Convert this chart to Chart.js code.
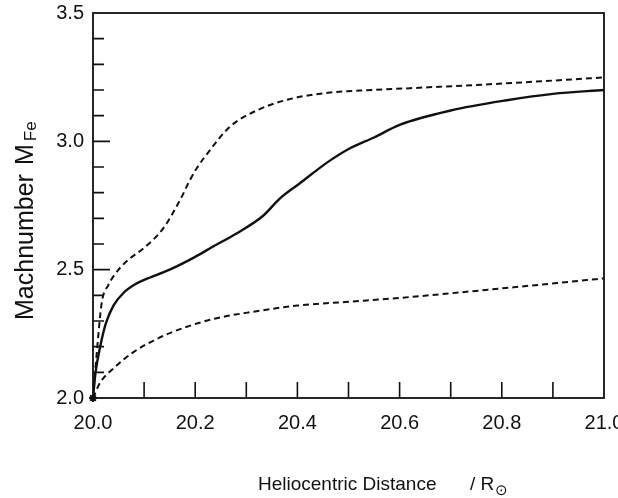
<!DOCTYPE html>
<html>
<head>
<meta charset="utf-8">
<script src="https://cdn.jsdelivr.net/npm/chart.js@4.4.1/dist/chart.umd.min.js"></script>
<style>
  html, body { margin: 0; padding: 0; background: #fff; }
</style>
</head>
<body>
<canvas id="chart" width="618" height="498"></canvas>
<script>
// axis ticks (labelled ones only)
const xTickLabels = [20.0, 20.2, 20.4, 20.6, 20.8, 21.0]
const yTickLabels = [2.0, 2.5, 3.0, 3.5]

// solid curve
const solidX = [20.0, 20.005, 20.014, 20.025, 20.04, 20.06, 20.08, 20.1, 20.15, 20.2, 20.235, 20.28, 20.333, 20.366, 20.405, 20.46, 20.503, 20.55, 20.6, 20.7, 20.81, 20.9, 21.0]
const solidY = [2.0, 2.1, 2.2, 2.29, 2.36, 2.41, 2.44, 2.46, 2.5, 2.55, 2.59, 2.64, 2.71, 2.778, 2.837, 2.92, 2.973, 3.015, 3.064, 3.12, 3.16, 3.185, 3.2]

// upper dashed curve
const upperX = [20.0, 20.008, 20.017, 20.03, 20.05, 20.07, 20.1, 20.137, 20.17, 20.19, 20.203, 20.229, 20.268, 20.32, 20.386, 20.464, 20.548, 20.62, 20.8, 21.0]
const upperY = [2.0, 2.19, 2.37, 2.44, 2.5, 2.54, 2.585, 2.66, 2.77, 2.85, 2.895, 2.966, 3.057, 3.12, 3.165, 3.19, 3.2, 3.207, 3.225, 3.249]

// lower dashed curve
const lowerX = [20.0, 20.014, 20.04, 20.08, 20.13, 20.18, 20.24, 20.31, 20.4, 20.5, 20.6, 20.8, 21.0]
const lowerY = [2.0, 2.06, 2.115, 2.18, 2.235, 2.275, 2.31, 2.335, 2.36, 2.375, 2.39, 2.427, 2.466]

const toPoints = (xs, ys) => xs.map((x, i) => ({ x, y: ys[i] }))

const INK = '#111'
const FONT = '"Liberation Sans", Arial, sans-serif'

// frame, inward ticks and the two axis titles (with subscripts)
const frameAndTitles = {
  id: 'frameAndTitles',
  afterDatasetsDraw (chart) {
    const { ctx, chartArea: a, scales: { x, y } } = chart
    ctx.save()
    ctx.strokeStyle = INK
    ctx.lineWidth = 1.8
    ctx.strokeRect(a.left, a.top, a.right - a.left, a.bottom - a.top)

    ctx.lineWidth = 1.6
    ctx.beginPath()
    x.ticks.forEach(t => {
      if (t.value <= x.min + 1e-9 || t.value >= x.max - 1e-9) return
      const px = x.getPixelForValue(t.value)
      ctx.moveTo(px, a.bottom)
      ctx.lineTo(px, a.bottom - 16)
    })
    y.ticks.forEach(t => {
      if (t.value <= y.min + 1e-9 || t.value >= y.max - 1e-9) return
      const py = y.getPixelForValue(t.value)
      const major = yTickLabels.some(v => Math.abs(v - t.value) < 1e-6)
      ctx.moveTo(a.left, py)
      ctx.lineTo(a.left + (major ? 17 : 11), py)
    })
    ctx.stroke()

    ctx.fillStyle = INK
    ctx.textBaseline = 'alphabetic'
    ctx.textAlign = 'left'

    // x title
    ctx.font = `19px ${FONT}`
    ctx.fillText('Heliocentric Distance', 258, 490)
    ctx.fillText('/ R', 470, 490)
    const rw = ctx.measureText('/ R').width
    ctx.font = `15px ${FONT}`
    ctx.fillText('\u2299', 470 + rw + 1, 495)

    // y title
    ctx.translate(33, 320)
    ctx.rotate(-Math.PI / 2)
    ctx.font = `25px ${FONT}`
    ctx.fillText('Machnumber', 0, 0)
    ctx.fillText('M', 155, 0)
    const mw = ctx.measureText('M').width
    ctx.font = `17px ${FONT}`
    ctx.fillText('Fe', 155 + mw + 3, 3)
    ctx.restore()
  }
}

const line = (xs, ys, dashed) => ({
  data: toPoints(xs, ys),
  borderColor: INK,
  borderWidth: dashed ? 2 : 2.4,
  borderDash: dashed ? [6, 4] : [],
  pointRadius: 0,
  cubicInterpolationMode: 'monotone',
  fill: false
})

new Chart(document.getElementById('chart'), {
  type: 'line',
  data: {
    datasets: [
      line(solidX, solidY, false),
      line(upperX, upperY, true),
      line(lowerX, lowerY, true),
      {
        data: [{ x: solidX[0], y: solidY[0] }],
        pointStyle: 'star',
        pointRadius: 4,
        borderColor: INK,
        borderWidth: 2,
        showLine: false,
        clip: false
      }
    ]
  },
  options: {
    responsive: false,
    animation: false,
    layout: { padding: { top: 13, right: 14, left: 0, bottom: 0 } },
    plugins: { legend: { display: false }, tooltip: { enabled: false } },
    scales: {
      x: {
        type: 'linear',
        min: 20,
        max: 21,
        afterFit: scale => {
          scale.height = 100
          scale.paddingLeft = 0
          scale.paddingRight = 0
        },
        grid: { display: false, drawTicks: false },
        border: { display: false },
        ticks: {
          stepSize: 0.1,
          autoSkip: false,
          maxRotation: 0,
          padding: 13,
          color: INK,
          font: { family: FONT, size: 20 },
          callback: v => xTickLabels.some(l => Math.abs(l - v) < 1e-6) ? v.toFixed(1) : ''
        }
      },
      y: {
        min: 2,
        max: 3.5,
        afterFit: scale => {
          scale.width = 93
          scale.paddingTop = 0
          scale.paddingBottom = 0
        },
        grid: { display: false, drawTicks: false },
        border: { display: false },
        ticks: {
          stepSize: 0.1,
          autoSkip: false,
          padding: 9,
          color: INK,
          font: { family: FONT, size: 20 },
          callback: v => yTickLabels.some(l => Math.abs(l - v) < 1e-6) ? v.toFixed(1) : ''
        }
      }
    }
  },
  plugins: [frameAndTitles]
})
</script>
</body>
</html>
